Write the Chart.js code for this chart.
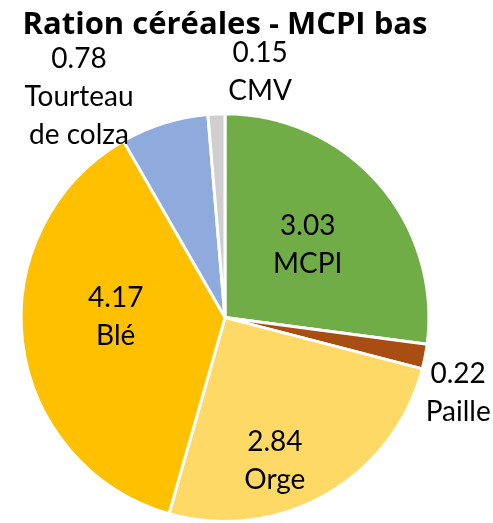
<html>

<head>
    <script src="https://cdn.jsdelivr.net/npm/chart.js"></script>
    <style>
        body {
            margin: 0;
            background: #ffffff;
        }

        #chart-container {
            width: 493px;
            height: 523px;
        }
    </style>
</head>

<body>
    <div id="chart-container">
        <canvas id="ration-chart"></canvas>
    </div>

    <script>
        const categories = ['MCPI', 'Paille', 'Orge', 'Blé', 'Tourteau\nde colza', 'CMV'];
        const values = [3.03, 0.22, 2.84, 4.17, 0.78, 0.15];
        const sliceColors = ['#70AD47', '#A94E12', '#FFD966', '#FFC000', '#8FAADC', '#D0CECE'];

        // where each label sits: fraction of the radius along the slice middle, plus a nudge in px
        const labelPlace = [
            { r: 0.54, dx: 0, dy: 0 },
            { r: 1.15, dx: 3, dy: 31 },
            { r: 0.70, dx: -21, dy: 19 },
            { r: 0.54, dx: 0, dy: -14 },
            { r: 1.15, dx: -76, dy: 3 },
            { r: 1.15, dx: 45, dy: -11 }
        ];

        const labelFont = '28px Lato, "Liberation Sans", sans-serif';
        const lineHeight = 38;

        const sliceLabels = {
            id: 'sliceLabels',
            afterDatasetsDraw(chart) {
                const ctx = chart.ctx;
                const meta = chart.getDatasetMeta(0);
                ctx.save();
                ctx.font = labelFont;
                ctx.fillStyle = '#000000';
                ctx.textAlign = 'center';
                ctx.textBaseline = 'middle';
                meta.data.forEach((arc, i) => {
                    const p = arc.getProps(['x', 'y', 'startAngle', 'endAngle', 'outerRadius'], true);
                    const mid = (p.startAngle + p.endAngle) / 2;
                    const place = labelPlace[i];
                    const cx = p.x + Math.cos(mid) * p.outerRadius * place.r + place.dx;
                    const cy = p.y + Math.sin(mid) * p.outerRadius * place.r + place.dy;
                    const lines = [values[i].toFixed(2)].concat(categories[i].split('\n'));
                    lines.forEach((txt, k) => {
                        ctx.fillText(txt, cx, cy + (k - (lines.length - 1) / 2) * lineHeight);
                    });
                });
                ctx.restore();
            }
        };

        const ctx = document.getElementById('ration-chart').getContext('2d');
        const chart = new Chart(ctx, {
            type: 'pie',
            data: {
                labels: categories,
                datasets: [{
                    data: values,
                    backgroundColor: sliceColors,
                    borderColor: '#ffffff',
                    borderWidth: 3
                }]
            },
            options: {
                responsive: true,
                maintainAspectRatio: false,
                animation: false,
                layout: {
                    padding: { left: 17, right: 60, top: 0, bottom: 0 }
                },
                plugins: {
                    legend: { display: false },
                    tooltip: { enabled: false },
                    title: {
                        display: true,
                        text: 'Ration céréales - MCPI bas',
                        color: '#000000',
                        font: { family: '"Open Sans", Lato, sans-serif', size: 31, weight: 'bold', lineHeight: 1.2 },
                        padding: { top: 7, bottom: 68 }
                    }
                }
            },
            plugins: [sliceLabels]
        });
    </script>
</body>

</html>
